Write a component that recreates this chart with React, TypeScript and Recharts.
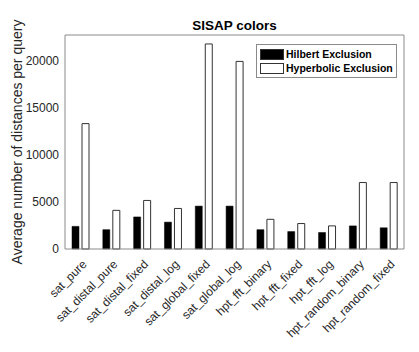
import { Bar, BarChart, XAxis, YAxis } from "recharts";

const categories = [
  "sat_pure",
  "sat_distal_pure",
  "sat_distal_fixed",
  "sat_distal_log",
  "sat_global_fixed",
  "sat_global_log",
  "hpt_fft_binary",
  "hpt_fft_fixed",
  "hpt_fft_log",
  "hpt_random_binary",
  "hpt_random_fixed",
];
const hilbert = [2400, 2050, 3400, 2850, 4550, 4550, 2050, 1850, 1750, 2450, 2250];
const hyperbolic = [13300, 4100, 5150, 4300, 21750, 19900, 3150, 2700, 2450, 7050, 7050];
const yTicks = [0, 5000, 10000, 15000, 20000];
const seriesNames = ["Hilbert Exclusion", "Hyperbolic Exclusion"];

const data = categories.map((name, i) => ({
  name,
  hilbert: hilbert[i],
  hyperbolic: hyperbolic[i],
}));

const FONT = '"Liberation Sans", Arial, Helvetica, sans-serif';
const TEXT = "#262626";
const AXIS = "#8a8a8a";

const XTick = ({ x, y, payload }: any) => {
  const tx = x + 7;
  const ty = y + 16;
  return (
    <text
      x={tx}
      y={ty}
      transform={`rotate(-45 ${tx} ${ty})`}
      textAnchor="end"
      fontSize={12}
      fontFamily={FONT}
      fill={TEXT}
    >
      {payload.value}
    </text>
  );
};

const LegendBox = () => (
  <div
    style={{
      position: "absolute",
      left: 256,
      top: 44,
      border: `1px solid ${AXIS}`,
      background: "#fff",
      padding: "2px 3px",
      fontFamily: FONT,
      fontWeight: "bold",
      fontSize: 10.5,
      color: "#000",
      lineHeight: "14px",
    }}
  >
    {seriesNames.map((label, i) => (
      <div key={label} style={{ display: "flex", alignItems: "center" }}>
        <span
          style={{
            display: "inline-block",
            width: 22,
            height: 9,
            background: i === 0 ? "#000" : "#fff",
            border: "1px solid #333",
            marginRight: 2,
          }}
        />
        {label}
      </div>
    ))}
  </div>
);

export default function App() {
  return (
    <div style={{ position: "absolute", left: 0, top: 0, width: 419, height: 352, background: "#fff" }}>
      <div
        style={{
          position: "absolute",
          left: 65,
          width: 339,
          top: 18,
          textAlign: "center",
          fontFamily: FONT,
          fontWeight: "bold",
          fontSize: 13.5,
          color: "#000",
        }}
      >
        SISAP colors
      </div>
      <BarChart
        width={419}
        height={352}
        data={data}
        margin={{ top: 35, right: 15, bottom: 0, left: 0 }}
        barSize={7}
        barGap={3}
      >
        <XAxis
          dataKey="name"
          height={103}
          interval={0}
          tickLine={false}
          tickSize={0}
          tickMargin={0}
          tick={<XTick />}
          axisLine={{ stroke: AXIS }}
        />
        <XAxis
          xAxisId="top"
          dataKey="name"
          orientation="top"
          mirror
          height={1}
          tick={false}
          tickSize={4}
          tickLine={{ stroke: AXIS }}
          axisLine={{ stroke: AXIS }}
        />
        <XAxis
          xAxisId="bin"
          dataKey="name"
          orientation="bottom"
          mirror
          height={1}
          tick={false}
          tickSize={4}
          tickLine={{ stroke: AXIS }}
          axisLine={false}
        />
        <YAxis
          width={65}
          domain={[0, 22700]}
          ticks={yTicks}
          tickLine={false}
          tickSize={0}
          tickMargin={6}
          axisLine={{ stroke: AXIS }}
          tick={{ fontSize: 12, fontFamily: FONT, fill: TEXT }}
          label={(props: any) => {
            const vb = props.viewBox;
            const cx = 17;
            const cy = vb.y + vb.height / 2;
            return (
              <text
                x={cx}
                y={cy}
                transform={`rotate(-90 ${cx} ${cy})`}
                textAnchor="middle"
                dominantBaseline="central"
                fontSize={14}
                fontFamily={FONT}
                fill={TEXT}
              >
                Average number of distances per query
              </text>
            );
          }}
        />
        <YAxis
          yAxisId="lin"
          orientation="left"
          mirror
          width={1}
          domain={[0, 22700]}
          ticks={yTicks}
          tick={false}
          tickSize={4}
          tickLine={{ stroke: AXIS }}
          axisLine={false}
        />
        <YAxis
          yAxisId="right"
          orientation="right"
          mirror
          width={1}
          domain={[0, 22700]}
          ticks={yTicks}
          tick={false}
          tickSize={4}
          tickLine={{ stroke: AXIS }}
          axisLine={{ stroke: AXIS }}
        />
        <Bar dataKey="hilbert" name={seriesNames[0]} fill="#000" stroke="#000" strokeWidth={0.5} isAnimationActive={false} />
        <Bar dataKey="hyperbolic" name={seriesNames[1]} fill="#fff" stroke="#333" strokeWidth={1} isAnimationActive={false} />
      </BarChart>
      <LegendBox />
    </div>
  );
}
